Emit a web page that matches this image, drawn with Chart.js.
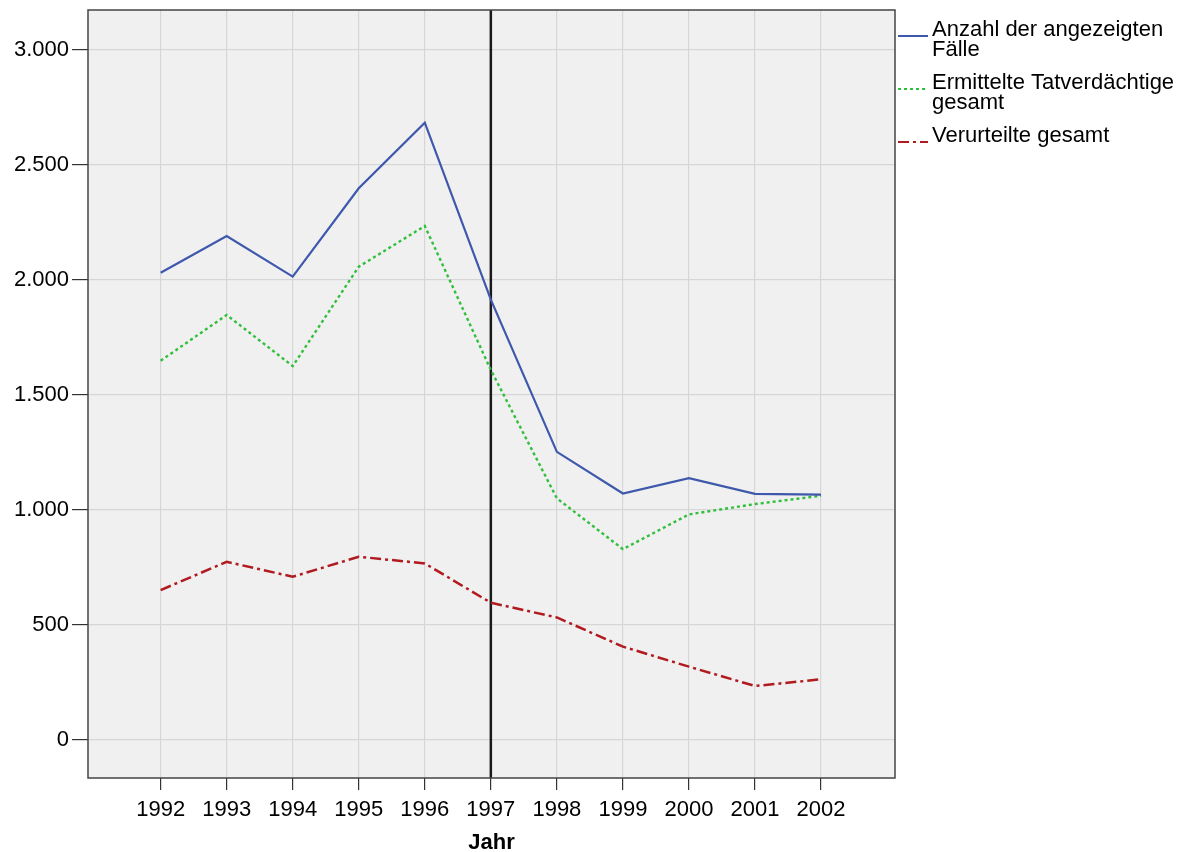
<!DOCTYPE html>
<html>
<head>
<meta charset="utf-8">
<script src="https://cdn.jsdelivr.net/npm/chart.js@4/dist/chart.umd.min.js"></script>
<style>
  html, body { margin: 0; padding: 0; background: #ffffff; }
  canvas { display: block; }
</style>
</head>
<body>
<canvas id="c" width="1193" height="852"></canvas>
<script>
const years = [1992, 1993, 1994, 1995, 1996, 1997, 1998, 1999, 2000, 2001, 2002];
const faelle = [2032, 2191, 2015, 2399, 2684, 1915, 1253, 1072, 1139, 1070, 1067];
const tatverdaechtige = [1649, 1848, 1626, 2058, 2235, 1609, 1051, 830, 981, 1026, 1062];
const verurteilte = [652, 775, 710, 797, 768, 597, 533, 406, 319, 235, 264];
const yTicks = [0, 500, 1000, 1500, 2000, 2500, 3000];
const seriesLabels = [
  ['Anzahl der angezeigten', 'Fälle'],
  ['Ermittelte Tatverdächtige', 'gesamt'],
  ['Verurteilte gesamt']
];
const referenceYear = 1997;
const xTitle = 'Jahr';

const FONT = '"Liberation Sans", Arial, sans-serif';

function toPoints(vals) { return years.map((y, i) => ({ x: y, y: vals[i] })); }
function fmt(v) { return String(v).replace(/\B(?=(\d{3})+(?!\d))/g, '.'); }

const framePlugin = {
  id: 'frame',
  beforeDraw(chart) {
    const { ctx, chartArea: a } = chart;
    ctx.save();
    ctx.fillStyle = '#f0f0f0';
    ctx.fillRect(a.left, a.top, a.right - a.left, a.bottom - a.top);
    ctx.restore();
  },
  beforeDatasetsDraw(chart) {
    const { ctx, chartArea: a, scales } = chart;
    const x = scales.x.getPixelForValue(referenceYear);
    ctx.save();
    ctx.strokeStyle = '#1a1a1a';
    ctx.lineWidth = 2.5;
    ctx.beginPath();
    ctx.moveTo(x, a.top);
    ctx.lineTo(x, a.bottom);
    ctx.stroke();
    ctx.restore();
  },
  afterDraw(chart) {
    const { ctx, chartArea: a } = chart;
    ctx.save();
    ctx.strokeStyle = '#444444';
    ctx.lineWidth = 1.5;
    ctx.strokeRect(a.left, a.top, a.right - a.left, a.bottom - a.top);
    // legend
    const sx = a.right + 3, tx = a.right + 37;
    let y = 30;
    ctx.font = '22px ' + FONT;
    ctx.textBaseline = 'middle';
    ctx.textAlign = 'left';
    chart.data.datasets.forEach((ds, i) => {
      const lines = seriesLabels[i];
      ctx.strokeStyle = ds.borderColor;
      ctx.lineWidth = 2;
      ctx.setLineDash(ds.borderDash || []);
      ctx.beginPath();
      ctx.moveTo(sx, y + 6);
      ctx.lineTo(sx + 30, y + 6);
      ctx.stroke();
      ctx.setLineDash([]);
      ctx.fillStyle = '#000000';
      lines.forEach((t, j) => ctx.fillText(t, tx, y + j * 20));
      y += lines.length * 20 + 13;
    });
    ctx.restore();
  }
};

new Chart(document.getElementById('c'), {
  type: 'line',
  data: {
    datasets: [
      { label: seriesLabels[0].join(' '), data: toPoints(faelle), borderColor: '#3e58ac', borderWidth: 2.2, borderDash: [] },
      { label: seriesLabels[1].join(' '), data: toPoints(tatverdaechtige), borderColor: '#2fbf3a', borderWidth: 2.4, borderDash: [3, 3] },
      { label: seriesLabels[2].join(' '), data: toPoints(verurteilte), borderColor: '#b11a1f', borderWidth: 2.5, borderDash: [11, 4, 3, 4] }
    ]
  },
  options: {
    responsive: false,
    animation: false,
    elements: { point: { radius: 0 }, line: { tension: 0 } },
    layout: { padding: { top: 10, right: 298, left: 0, bottom: 0 } },
    plugins: { legend: { display: false }, tooltip: { enabled: false } },
    scales: {
      x: {
        type: 'linear',
        min: 1990.9,
        max: 2003.12,
        afterBuildTicks: (s) => { s.ticks = years.map(v => ({ value: v })); },
        afterFit: (s) => { s.height = 74; s.paddingLeft = 0; s.paddingRight = 0; },
        ticks: { includeBounds: false, autoSkip: false, maxRotation: 0, padding: 7, color: '#000', font: { family: FONT, size: 22 }, callback: (v) => String(v) },
        grid: { color: '#d6d6d6', lineWidth: 1.2, tickColor: '#333', tickLength: 12 },
        border: { display: false },
        title: { display: true, text: xTitle, color: '#000', font: { family: FONT, size: 22, weight: 'bold', lineHeight: 0.8 }, padding: { top: 0, bottom: 0 } }
      },
      y: {
        type: 'linear',
        min: -165,
        max: 3174,
        afterBuildTicks: (s) => { s.ticks = yTicks.map(v => ({ value: v })); },
        afterFit: (s) => { s.width = 88; s.paddingTop = 0; s.paddingBottom = 0; },
        ticks: { includeBounds: false, padding: 3, color: '#000', font: { family: FONT, size: 22 }, callback: (v) => fmt(v) },
        grid: { color: '#d6d6d6', lineWidth: 1.2, tickColor: '#333', tickLength: 16 },
        border: { display: false }
      }
    }
  },
  plugins: [framePlugin]
});
</script>
</body>
</html>
